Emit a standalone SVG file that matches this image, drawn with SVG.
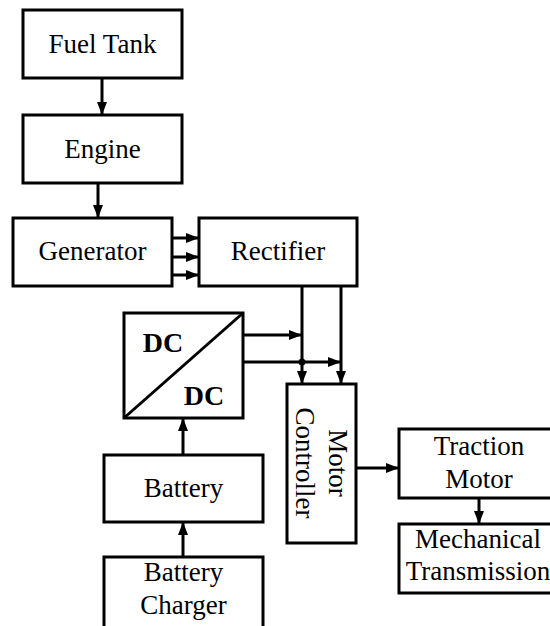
<svg xmlns="http://www.w3.org/2000/svg" width="550" height="626" viewBox="0 0 550 626">
<defs>
<marker id="ah" markerUnits="userSpaceOnUse" markerWidth="14" markerHeight="11" refX="13" refY="5" orient="auto">
<path d="M0,0 L13,5 L0,10 z" fill="#000"/>
</marker>
<style>
rect{fill:#fff;stroke:#000;stroke-width:3}
text{font-family:"Liberation Serif","Times New Roman",serif;font-size:27px;fill:#000;text-anchor:middle}
.b{font-weight:bold;font-size:28px}
#connectors line{stroke:#000;stroke-width:3}
.a{marker-end:url(#ah)}
</style>
</defs>
<rect x="0" y="0" width="550" height="626" style="fill:#fff;stroke:none"/>
<g id="fuel-tank"><rect x="23" y="10" width="159" height="68"/><text x="102.5" y="53">Fuel Tank</text></g>
<g id="engine"><rect x="23" y="115" width="159" height="68"/><text x="102.5" y="158">Engine</text></g>
<g id="generator"><rect x="13" y="218" width="159" height="68"/><text x="92.5" y="260">Generator</text></g>
<g id="rectifier"><rect x="199" y="218" width="158" height="68"/><text x="278" y="260">Rectifier</text></g>
<g id="dcdc"><rect x="124" y="313" width="119" height="105"/><line x1="124" y1="418" x2="243" y2="313" stroke="#000" stroke-width="3"/><text class="b" x="163" y="352">DC</text><text class="b" x="204" y="405">DC</text></g>
<g id="motor-controller"><rect x="287" y="384" width="69" height="159"/><text transform="translate(329,463) rotate(90)">Motor</text><text transform="translate(296,463) rotate(90)">Controller</text></g>
<g id="traction-motor"><rect x="399" y="429" width="160" height="69"/><text x="479" y="455">Traction</text><text x="479" y="488">Motor</text></g>
<g id="mechanical-transmission"><rect x="399" y="524" width="160" height="69"/><text x="478" y="548">Mechanical</text><text x="478" y="580">Transmission</text></g>
<g id="battery"><rect x="104" y="455" width="159" height="67"/><text x="183.5" y="497">Battery</text></g>
<g id="battery-charger"><rect x="104" y="557" width="159" height="80"/><text x="183.5" y="581">Battery</text><text x="183.5" y="614">Charger</text></g>
<g id="connectors">
<line class="a" x1="102" y1="78" x2="102" y2="115"/>
<line class="a" x1="98" y1="183" x2="98" y2="218"/>
<line class="a" x1="172" y1="238" x2="199" y2="238"/>
<line class="a" x1="172" y1="257" x2="199" y2="257"/>
<line class="a" x1="172" y1="275" x2="199" y2="275"/>
<line class="a" x1="302" y1="286" x2="302" y2="384"/>
<line class="a" x1="341" y1="286" x2="341" y2="384"/>
<line class="a" x1="243" y1="335" x2="302" y2="335"/>
<line class="a" x1="243" y1="362" x2="341" y2="362"/>
<circle cx="302" cy="362" r="3.5" fill="#000"/>
<line class="a" x1="183" y1="455" x2="183" y2="418"/>
<line class="a" x1="183" y1="557" x2="183" y2="522"/>
<line class="a" x1="356" y1="468" x2="399" y2="468"/>
<line class="a" x1="479" y1="498" x2="479" y2="524"/>
</g>
</svg>
